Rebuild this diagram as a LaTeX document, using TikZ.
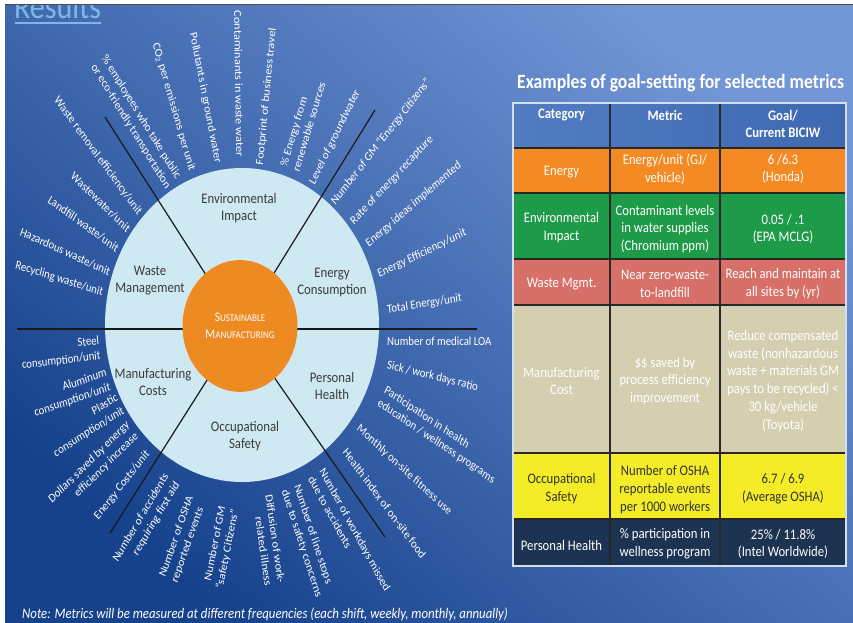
\documentclass[tikz,border=0pt]{standalone}
\usepackage{fontspec}
\setmainfont{Carlito}
\usetikzlibrary{calc}
\definecolor{bglight}{RGB}{114,150,214}
\definecolor{bgdark}{RGB}{22,66,140}
\definecolor{wheelc}{RGB}{206,233,242}
\definecolor{hubc}{RGB}{238,138,34}
\definecolor{cattext}{RGB}{58,58,58}
\definecolor{resultsc}{RGB}{125,184,232}
\definecolor{hdrl}{RGB}{82,124,194}
\definecolor{hdrr}{RGB}{62,104,176}
\definecolor{energyc}{RGB}{243,138,35}
\definecolor{envc}{RGB}{30,155,72}
\definecolor{wastec}{RGB}{214,112,104}
\definecolor{mfgc}{RGB}{214,206,177}
\definecolor{occc}{RGB}{243,236,38}
\definecolor{phc}{RGB}{28,52,82}
\definecolor{gridc}{RGB}{40,40,40}
\definecolor{borderc}{RGB}{215,222,235}
\newcommand{\hubSC}[2]{{\fontsize{11.5}{14.8}\selectfont #1}{\fontsize{9}{14.8}\selectfont #2}}
\begin{document}
\begin{tikzpicture}[x=1pt, y={(0pt,-0.8726pt)}, yscale=1.146,
  every node/.append style={transform shape, inner sep=0pt},
  lab/.style={text=white, font=\fontsize{10.8}{13.2}\selectfont},
  cat/.style={text=cattext, font=\fontsize{12.75}{14.8}\selectfont, align=center},
  cell/.style={text=white, font=\fontsize{12.7}{15.6}\selectfont, align=center},
  hcell/.style={cell, font=\bfseries\fontsize{12.7}{15.6}\selectfont},
  divider/.style={draw=black!90, line width=1.2pt}]
\useasboundingbox (0,0) rectangle (853,623);
% background
\shade[top color=bglight, bottom color=bgdark, shading angle=-40] (0,0) rectangle (853,623);
% title (cut off)
\node[anchor=base west, text=resultsc, font=\fontsize{30}{30}\selectfont] (results) at (14,18.5) {Results};
\draw[resultsc, line width=1.8pt] ($(results.base west)+(1,4.5)$) -- ($(results.base east)+(0,4.5)$);
\fill[white] (0,0) rectangle (853,4);
\fill[white] (0,0) rectangle (5,623);
\draw[black!70, line width=1.1pt] (5,4.6) -- (853,4.6);

% wheel
\node[circle, fill=wheelc, minimum size=274pt] (wheel) at (242,325) {};
\coordinate (c) at (240,328);
\coordinate (dUL) at (105,117);
\coordinate (dUR) at (375,110);
\coordinate (dLL) at (110,533);
\coordinate (dLR) at (385,537);
\coordinate (dL) at (17,329);
\coordinate (dR) at (477,329);
\draw[divider] (dUL) -- (c);
\draw[divider] (dUR) -- (c);
\draw[divider] (dLL) -- (c);
\draw[divider] (dLR) -- (c);
\draw[divider] (dL) -- (dR);
\node[circle, fill=hubc, minimum size=115pt, text=white, align=center, font=\fontsize{9}{14.8}\selectfont] (hub) at (240,326)
  {\hubSC{S}{USTAINABLE}\\\hubSC{M}{ANUFACTURING}};

% categories
\node[cat] (cEnv) at (239,208) {Environmental\\Impact};
\node[cat] (cEn) at (332,282.5) {Energy\\Consumption};
\node[cat] (cWa) at (150,280.5) {Waste\\Management};
\node[cat] (cMf) at (153,382) {Manufacturing\\Costs};
\node[cat] (cPH) at (332,386) {Personal\\Health};
\node[cat] (cOS) at (245,436) {Occupational\\Safety};

% waste labels
\node[lab, anchor=east, rotate=-15.5] (lw1) at (103,293) {Recycling waste/unit};
\node[lab, anchor=east, rotate=-21.7] (lw2) at (110,272) {Hazardous waste/unit};
\node[lab, anchor=east, rotate=-32.4] (lw3) at (118,249) {Landfill waste/unit};
\node[lab, anchor=east, rotate=-40.6] (lw4) at (129,230) {Wastewater/unit};
\node[lab, anchor=east, rotate=-50.2] (lw5) at (140,214) {Waste removal efficiency/unit};
\node[lab, anchor=west, rotate=-54.9, align=left] (lw6) at (98.5,61) {\% employees who take public\\or eco-friendly transportation};
% environmental labels
\node[lab, anchor=east, rotate=-71.8] (le1) at (192,171) {CO\textsubscript{2} per emissions per unit};
\node[lab, anchor=east, rotate=-77.4] (le2) at (218,163) {Pollutants in ground water};
\node[lab, anchor=east, rotate=-89] (le3) at (240,157) {Contaminants in waste water};
\node[lab, anchor=west, rotate=83.8] (le4) at (260,165) {Footprint of business travel};
\node[lab, anchor=west, rotate=71.25, align=left] (le5) at (289.5,169) {\% Energy from\\renewable sources};
\node[lab, anchor=west, rotate=60.8] (le6) at (312,184) {Level of groundwater};
% energy labels
\node[lab, anchor=west, rotate=48.2] (ln1) at (333,203) {Number of GM “Energy Citizens”};
\node[lab, anchor=west, rotate=43.1] (ln2) at (352,223) {Rate of energy recapture};
\node[lab, anchor=west, rotate=37.2] (ln3) at (367,245) {Energy ideas implemented};
\node[lab, anchor=west, rotate=23.05] (ln4) at (378,275) {Energy Efficiency/unit};
\node[lab, anchor=west, rotate=7.9] (ln5) at (387,310) {Total Energy/unit};
% personal health labels
\node[lab, anchor=west, rotate=0] (lp1) at (387,341) {Number of medical LOA};
\node[lab, anchor=west, rotate=-12.3] (lp2) at (387,365) {Sick / work days ratio};
\node[lab, anchor=west, rotate=-30.5, align=left] (lp3) at (381.5,396) {Participation in health\\education / wellness programs};
\node[lab, anchor=west, rotate=-39.1] (lp4) at (358,427) {Monthly on-site fitness use};
\node[lab, anchor=west, rotate=-49.7] (lp5) at (345,450) {Health index of on-site food};
% occupational labels
\node[lab, anchor=west, rotate=-58.1, align=left] (lo1) at (316.5,473) {Number of workdays missed\\due to accidents};
\node[lab, anchor=west, rotate=-69.6, align=left] (lo2) at (290.5,487.5) {Number of line stops\\due to safety concerns};
\node[lab, anchor=east, rotate=-80.85, align=right] (lo3) at (275,584.5) {Diffusion of work-\\related illness};
\node[lab, anchor=east, rotate=77.4, align=right] (lo4) at (229,508) {Number of GM\\“safety Citizens”};
\node[lab, anchor=west, rotate=68.1, align=left] (lo5) at (168.5,579.5) {Number of OSHA\\reported events};
\node[lab, anchor=east, rotate=56.0, align=right] (lo6) at (172,478.5) {Number of accidents\\requiring first aid};
\node[lab, anchor=east, rotate=48.2] (lo7) at (148,452) {Energy Costs/unit};
% manufacturing labels
\node[lab, anchor=east, rotate=41.1, align=right] (lm1) at (132.5,429) {Dollars saved by energy\\efficiency increase};
\node[lab, anchor=east, rotate=29.1, align=right] (lm2) at (120.5,403.5) {Plastic\\consumption/unit};
\node[lab, anchor=east, rotate=16.7, align=right] (lm3) at (108.5,380) {Aluminum\\consumption/unit};
\node[lab, anchor=east, rotate=6.1, align=right] (lm4) at (100,348.5) {Steel\\consumption/unit};

% table
\node[anchor=west, text=white, font=\bfseries\fontsize{17.7}{20}\selectfont] (ttl) at (517,83) {Examples of goal-setting for selected metrics};
\shade[left color=hdrl, right color=hdrr] (513,103) rectangle (846,148);
\fill[energyc] (513,148) rectangle (846,193);
\fill[envc] (513,193) rectangle (846,259);
\fill[wastec] (513,259) rectangle (846,305);
\fill[mfgc] (513,305) rectangle (846,453);
\fill[occc] (513,453) rectangle (846,519);
\fill[phc] (513,519) rectangle (846,566);
\foreach \yy in {148,193,259,305,453,519} {\draw[gridc, line width=1.2pt] (513,\yy) -- (846,\yy);}
\foreach \xx in {610,720} {\draw[gridc, line width=1.2pt] (\xx,103) -- (\xx,566);}
\draw[borderc, line width=1.3pt] (513,103) rectangle (846,566);

\node[hcell] (h1) at (561.5,115) {Category};
\node[hcell] (h2) at (665,115) {Metric};
\node[hcell] (h3) at (783,124) {Goal/\\Current BICIW};

\node[cell] (r1a) at (561.5,172) {Energy};
\node[cell] (r1b) at (665,169) {Energy/unit (GJ/\\vehicle)};
\node[cell] (r1c) at (783,169) {6 /6.3\\(Honda)};

\node[cell] (r2a) at (561.5,228) {Environmental\\Impact};
\node[cell] (r2b) at (665,229) {Contaminant levels\\in water supplies\\(Chromium ppm)};
\node[cell] (r2c) at (783,229) {0.05 / .1\\(EPA MCLG)};

\node[cell] (r3a) at (561.5,284) {Waste Mgmt.};
\node[cell] (r3b) at (665,284) {Near zero-waste-\\to-landfill};
\node[cell] (r3c) at (783,284) {Reach and maintain at\\all sites by (yr)};

\node[cell] (r4a) at (561.5,381) {Manufacturing\\Cost};
\node[cell] (r4b) at (665,381) {\$\$ saved by\\process efficiency\\improvement};
\node[cell] (r4c) at (783,381) {Reduce compensated\\waste (nonhazardous\\waste + materials GM\\pays to be recycled) <\\30 kg/vehicle\\(Toyota)};

\node[cell, text=black!80] (r5a) at (561.5,489) {Occupational\\Safety};
\node[cell, text=black!80] (r5b) at (665,489.5) {Number of OSHA\\reportable events\\per 1000 workers};
\node[cell, text=black!80] (r5c) at (783,489) {6.7 / 6.9\\(Average OSHA)};

\node[cell] (r6a) at (561.5,545) {Personal Health};
\node[cell] (r6b) at (665,544) {\% participation in\\wellness program};
\node[cell] (r6c) at (783,544) {25\% / 11.8\%\\(Intel Worldwide)};

% note
\node[anchor=west, text=white, font=\itshape\fontsize{12.8}{15}\selectfont] (note) at (22,614) {Note: Metrics will be measured at different frequencies (each shift, weekly, monthly, annually)};
\end{tikzpicture}
\end{document}
